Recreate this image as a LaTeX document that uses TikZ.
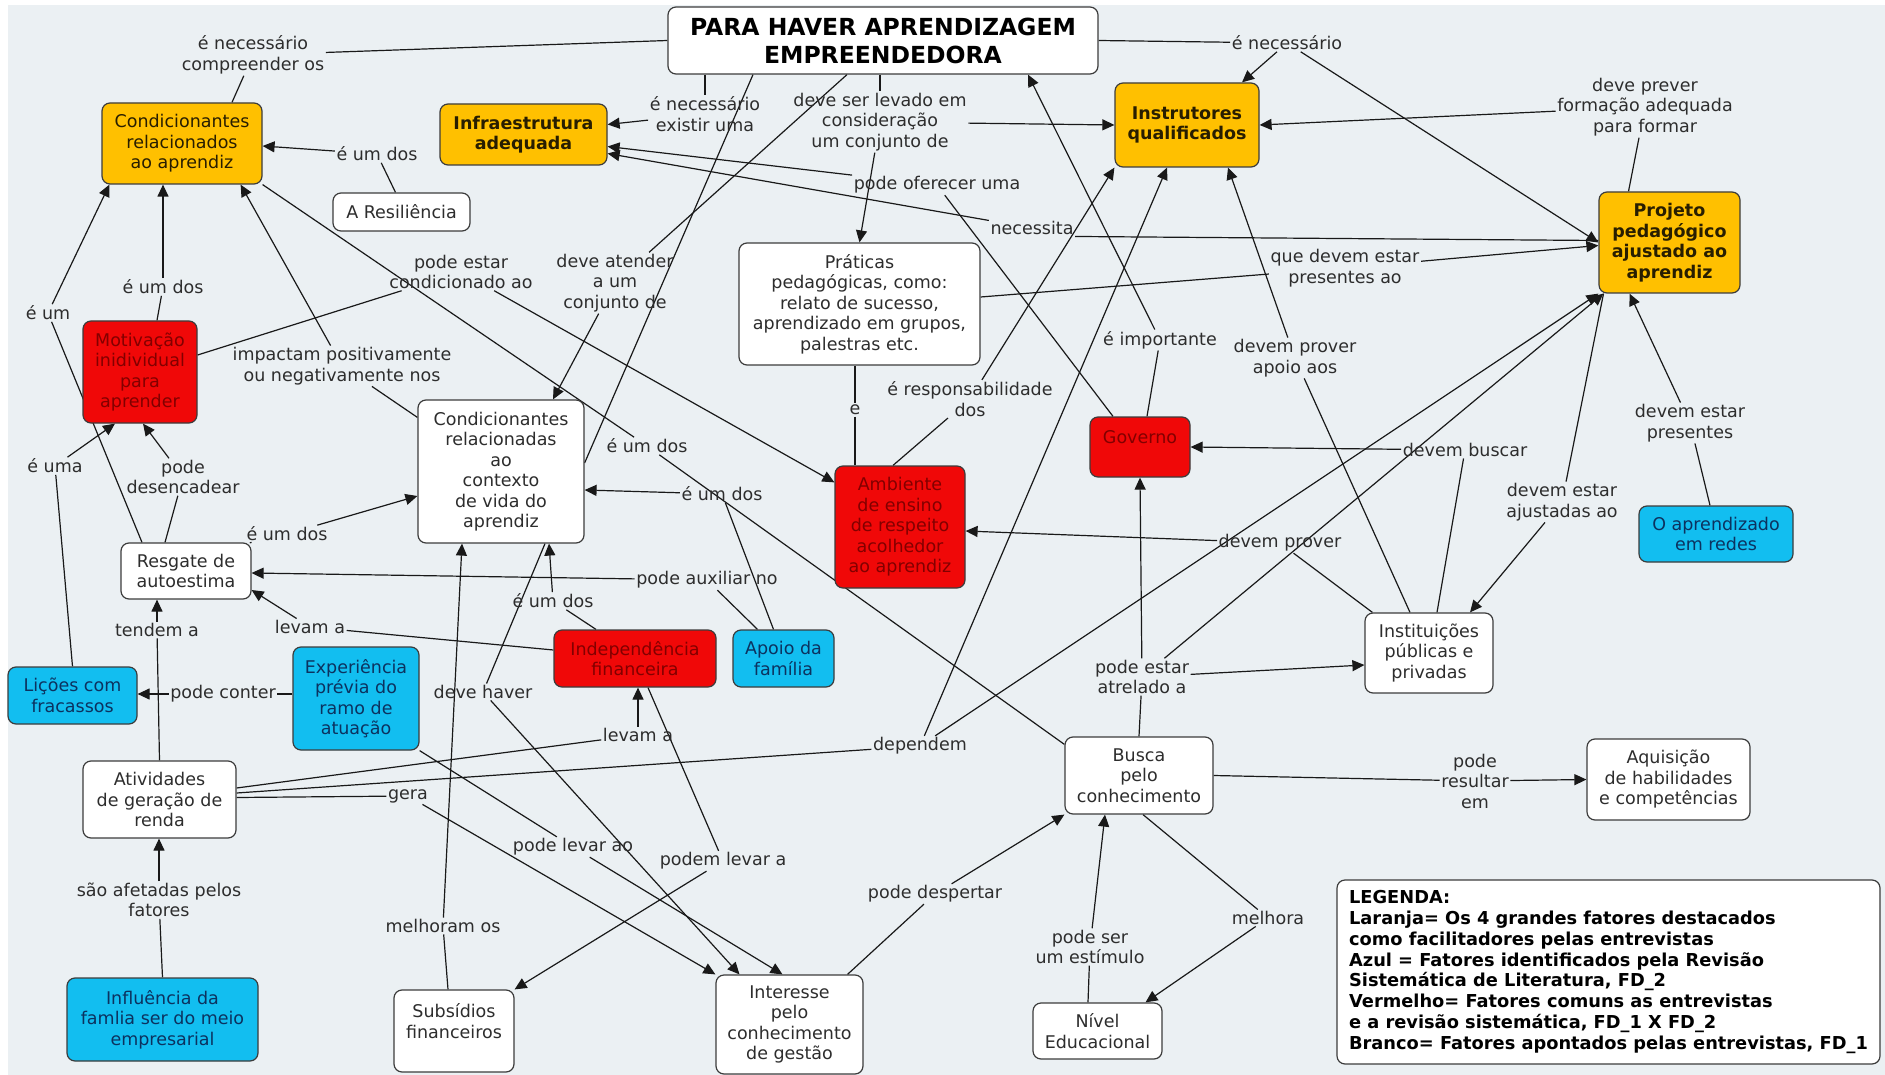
\documentclass[tikz,border=0pt]{standalone}
\usepackage{fontspec}
\setmainfont{DejaVu Sans}
\usetikzlibrary{arrows.meta,calc}
\pgfdeclarelayer{bglayer}
\pgfdeclarelayer{linelayer}
\pgfsetlayers{bglayer,linelayer,main}
\definecolor{bgc}{RGB}{235,240,243}
\definecolor{orc}{RGB}{255,192,0}
\definecolor{ort}{RGB}{40,30,0}
\definecolor{redc}{RGB}{240,8,8}
\definecolor{redt}{RGB}{130,0,0}
\definecolor{bluc}{RGB}{18,190,240}
\definecolor{blut}{RGB}{12,50,95}
\definecolor{txt}{RGB}{45,45,45}
\definecolor{bordc}{RGB}{60,60,60}
\definecolor{linec}{RGB}{25,25,25}
\newcommand\cmfs{\fontsize{17.5}{20.5}\selectfont}
\begin{document}
\begin{tikzpicture}[x=1pt,y=-1pt,
  base/.style={rounded corners=8pt, draw=bordc, line width=1.2pt, inner sep=0pt, align=center, font=\cmfs, text=txt},
  wbox/.style={base, fill=white},
  obox/.style={base, fill=orc, text=ort},
  rbox/.style={base, fill=redc, text=redt},
  bbox/.style={base, fill=bluc, text=blut},
  lab/.style={inner sep=1.5pt, align=center, font=\cmfs, text=txt},
  ln/.style={draw=linec, line width=1.2pt},
  ar/.style={ln, -{Triangle[length=12pt,width=11pt]}}]
\begin{pgfonlayer}{bglayer}
\fill[white] (0,0) rectangle (1885,1075);
\fill[bgc] (8,5) rectangle (1885,1075);
\end{pgfonlayer}
\useasboundingbox (0,0) rectangle (1885,1075);

% concepts
\node[wbox, text=black, minimum width=430pt, minimum height=67pt, font=\fontsize{23.5}{28}\selectfont\bfseries] (title) at (883,40.5) {PARA HAVER APRENDIZAGEM\\EMPREENDEDORA};
\node[obox, minimum width=160pt, minimum height=81pt] (ca) at (182,143.5) {Condicionantes\\relacionados\\ao aprendiz};
\node[obox, minimum width=167pt, minimum height=61pt, font=\cmfs\bfseries] (infra) at (523.5,134.5) {Infraestrutura\\adequada};
\node[obox, minimum width=144pt, minimum height=84pt, font=\cmfs\bfseries] (instr) at (1187,125) {Instrutores\\qualificados};
\node[obox, minimum width=141pt, minimum height=101pt, font=\cmfs\bfseries] (proj) at (1669.5,242.5) {Projeto\\pedagógico\\ajustado ao\\aprendiz};
\node[wbox, minimum width=137pt, minimum height=38pt] (resil) at (401.5,212) {A Resiliência};
\node[rbox, minimum width=114pt, minimum height=102pt] (motiv) at (140,372) {Motivação\\inidividual\\para\\aprender};
\node[wbox, minimum width=166pt, minimum height=143pt] (cc) at (501,471.5) {Condicionantes\\relacionadas\\ao\\contexto\\de vida do\\aprendiz};
\node[wbox, minimum width=241pt, minimum height=122pt] (prat) at (859.5,304) {Práticas\\pedagógicas, como:\\relato de sucesso,\\aprendizado em grupos,\\palestras etc.};
\node[rbox, minimum width=130pt, minimum height=122pt] (amb) at (900,527) {Ambiente\\de ensino\\de respeito\\acolhedor\\ao aprendiz};
\node[rbox, minimum width=100pt, minimum height=60pt] (gov) at (1140,447) {Governo\\\mbox{}};
\node[wbox, minimum width=130pt, minimum height=56pt] (resg) at (186,571) {Resgate de\\autoestima};
\node[bbox, minimum width=129pt, minimum height=57pt] (lic) at (72.5,695.5) {Lições com\\fracassos};
\node[bbox, minimum width=126pt, minimum height=103pt] (exp) at (356,698.5) {Experiência\\prévia do\\ramo de\\atuação};
\node[rbox, minimum width=162pt, minimum height=57pt] (indep) at (635,658.5) {Independência\\financeira};
\node[bbox, minimum width=101pt, minimum height=57pt] (apoio) at (783.5,658.5) {Apoio da\\família};
\node[wbox, minimum width=153pt, minimum height=77pt] (ativ) at (159.5,799.5) {Atividades\\de geração de\\renda};
\node[bbox, minimum width=191pt, minimum height=83pt] (infl) at (162.5,1019.5) {Influência da\\famlia ser do meio\\empresarial};
\node[wbox, minimum width=120pt, minimum height=82pt] (subs) at (454,1031) {Subsídios\\financeiros\\\mbox{}};
\node[wbox, minimum width=147pt, minimum height=99pt] (inter) at (789.5,1024.5) {Interesse\\pelo\\conhecimento\\de gestão};
\node[wbox, minimum width=148pt, minimum height=77pt] (busca) at (1139,775.5) {Busca\\pelo\\conhecimento};
\node[wbox, minimum width=129pt, minimum height=56pt] (nivel) at (1097.5,1031) {Nível\\Educacional};
\node[wbox, minimum width=128pt, minimum height=80pt] (inst) at (1429,653) {Instituições\\públicas e\\privadas};
\node[bbox, minimum width=154pt, minimum height=56pt] (redes) at (1716,534) {O aprendizado\\em redes};
\node[wbox, minimum width=163pt, minimum height=81pt] (aquis) at (1668.5,779.5) {Aquisição\\de habilidades\\e competências};
\node[wbox, text=black, align=left, minimum width=543pt, minimum height=184pt, font=\fontsize{17.8}{20.9}\selectfont\bfseries] (leg) at (1608.5,972) {LEGENDA:\\Laranja= Os 4 grandes fatores destacados\\como facilitadores pelas entrevistas\\Azul = Fatores identificados pela Revisão\\Sistemática de Literatura, FD\_2\\Vermelho= Fatores comuns as entrevistas\\e a revisão sistemática, FD\_1 X FD\_2\\Branco= Fatores apontados pelas entrevistas, FD\_1};

% linking phrases
\node[lab] (lnc) at (253,55) {é necessário\\compreender os};
\node[lab] (lne) at (705,114) {é necessário\\existir uma};
\node[lab] (llv) at (880,122) {deve ser levado em\\consideração\\um conjunto de};
\node[lab] (lnr) at (1287,43) {é necessário};
\node[lab] (lpv) at (1645,107) {deve prever\\formação adequada\\para formar};
\node[lab] (lu1) at (377,154) {é um dos};
\node[lab] (leum) at (48,313) {é um};
\node[lab] (lu2) at (163,287) {é um dos};
\node[lab] (limp) at (342,366) {impactam positivamente\\ou negativamente nos};
\node[lab] (lcond) at (461,272) {pode estar\\condicionado ao};
\node[lab] (latd) at (615,283) {deve atender\\a um\\conjunto de};
\node[lab] (lofe) at (937,185) {pode oferecer uma};
\node[lab] (lnes) at (1032,228) {necessita};
\node[lab] (lpre) at (1345,268) {que devem estar\\presentes ao};
\node[lab] (le) at (855,410) {e};
\node[lab] (lres) at (970,399) {é responsabilidade\\dos};
\node[lab] (limpo) at (1160,340) {é importante};
\node[lab] (lapo) at (1295,358) {devem prover\\apoio aos};
\node[lab] (lu3) at (647,446) {é um dos};
\node[lab] (lu4) at (722,494) {é um dos};
\node[lab] (lu5) at (287,534) {é um dos};
\node[lab] (ldes) at (183,477) {pode\\desencadear};
\node[lab] (leuma) at (55,466) {é uma};
\node[lab] (laux) at (707,580) {pode auxiliar no};
\node[lab] (lu6) at (553,601) {é um dos};
\node[lab] (lten) at (157,630) {tendem a};
\node[lab] (llv1) at (310,627) {levam a};
\node[lab] (lcon) at (223,694) {pode conter};
\node[lab] (lhav) at (483,692) {deve haver};
\node[lab] (lbus) at (1465,450) {devem buscar};
\node[lab] (lajs) at (1562,502) {devem estar\\ajustadas ao};
\node[lab] (lpr2) at (1690,423) {devem estar\\presentes};
\node[lab] (lprov) at (1280,543) {devem prover};
\node[lab] (latr) at (1142,677) {pode estar\\atrelado a};
\node[lab] (llv2) at (638,735) {levam a};
\node[lab] (ldep) at (920,746) {dependem};
\node[lab] (lger) at (408,796) {gera};
\node[lab] (llao) at (573,847) {pode levar ao};
\node[lab] (lpla) at (723,861) {podem levar a};
\node[lab] (lmel) at (443,926) {melhoram os};
\node[lab] (ldesp) at (935,894) {pode despertar};
\node[lab] (lrsl) at (1475,781) {pode\\resultar\\em};
\node[lab] (lest) at (1090,947) {pode ser\\um estímulo};
\node[lab] (lmlh) at (1268,918) {melhora};
\node[lab] (lafe) at (159,900) {são afetadas pelos\\fatores};

\begin{pgfonlayer}{linelayer}
\draw[ln] (title.west) -- (lnc);
\draw[ln] (lnc) -- ([xshift=50pt]ca.north);
\draw[ln] (title.south -| lne.north) -- (lne);
\draw[ar] (lne) -- ([yshift=10pt]infra.east);
\draw[ln] (title.south -| llv.north) -- (llv);
\draw[ar] (llv) -- (prat.north);
\draw[ar] (llv) -- (instr.west);
\draw[ln] (title.east) -- (lnr);
\draw[ar] (lnr) -- ([xshift=55pt]instr.north);
\draw[ar] (lnr) -- (proj.west);
\draw[ln] ([xshift=-41pt]proj.north) -- (lpv);
\draw[ar] (lpv) -- (instr.east);
\draw[ln] ([xshift=-6pt]resil.north) -- (lu1);
\draw[ar] (lu1) -- ([yshift=-2.5pt]ca.east);
\draw[ln] ([xshift=-44pt]resg.north) -- (leum);
\draw[ar] (leum) -- ([xshift=8pt]ca.south west);
\draw[ln] ([xshift=17pt]motiv.north) -- (lu2);
\draw[ar] (lu2) -- (lu2 |- ca.south);
\draw[ln] ([yshift=-18pt]cc.north west) -- (limp);
\draw[ar] (limp) -- ([xshift=-22pt]ca.south east);
\draw[ln] ([yshift=17pt]motiv.east) -- (lcond);
\draw[ar] (lcond) -- ([yshift=-17pt]amb.north west);
\draw[ln] ([xshift=-36pt]title.south) -- (latd);
\draw[ar] (latd) -- ([xshift=52pt]cc.north);
\draw[ln] ([xshift=-130pt]title.south) -- ([yshift=8.5pt]cc.east);
\draw[ln] ([xshift=-27pt]gov.north) -- (lofe);
\draw[ar] (lofe) -- ([yshift=-12pt]infra.east);
\draw[ln] ([yshift=2pt]proj.west) -- (lnes.south east);
\draw[ar] (lnes) -- ([yshift=-19pt]infra.east);
\draw[ln] ([yshift=7pt]prat.east) -- (lpre);
\draw[ar] (lpre) -- ([yshift=-3pt]proj.west);
\draw[ln] (prat.south -| le) -- (le);
\draw[ln] (le) -- (amb.north -| le);
\draw[ln] ([xshift=-7pt]amb.north) -- (lres);
\draw[ar] (lres) -- (instr.south west);
\draw[ln] ([xshift=7pt]gov.north) -- (limpo);
\draw[ar] (limpo) -- ([xshift=145pt]title.south);
\draw[ln] ([xshift=-19pt]inst.north) -- (lapo);
\draw[ar] (lapo) -- ([xshift=41pt]instr.south);
\draw[ln] ([yshift=-8pt]busca.north west) -- (lu3);
\draw[ln] (lu3) -- (ca.south east);
\draw[ln] ([xshift=-10pt]apoio.north) -- (lu4);
\draw[ar] (lu4) -- ([yshift=-18.5pt]cc.east);
\draw[ln] (resg.north east) -- (lu5);
\draw[ar] (lu5) -- ([yshift=-24.5pt]cc.west);
\draw[ln] ([xshift=-21pt]resg.north) -- (ldes);
\draw[ar] (ldes) -- ([xshift=3pt]motiv.south);
\draw[ln] (lic.north) -- (leuma);
\draw[ar] (leuma) -- ([xshift=-25pt]motiv.south);
\draw[ln] ([xshift=-26pt]apoio.north) -- (laux);
\draw[ar] (laux) -- ([yshift=-2pt]resg.east);
\draw[ln] ([xshift=-39pt]indep.north) -- (lu6);
\draw[ar] (lu6) -- ([xshift=48pt]cc.south);
\draw[ln] (ativ.north) -- (lten);
\draw[ar] (lten) -- (lten |- resg.south);
\draw[ln] ([yshift=8.5pt]indep.west) -- (llv1);
\draw[ar] (llv1) -- ([yshift=-19pt]resg.east);
\draw[ln] ([yshift=4.5pt]exp.west) -- (lcon);
\draw[ar] (lcon) -- ([yshift=1.5pt]lic.east);
\draw[ln] ([xshift=44pt]cc.south) -- (lhav);
\draw[ar] (lhav) -- ([xshift=-50pt]inter.north);
\draw[ln] ([xshift=8pt]inst.north) -- (lbus);
\draw[ar] (lbus) -- (gov.east);
\draw[ln] ([xshift=-66pt]proj.south) -- (lajs);
\draw[ar] (lajs) -- ([xshift=41pt]inst.north);
\draw[ln] ([xshift=-6pt]redes.north) -- (lpr2);
\draw[ar] (lpr2) -- ([xshift=-40pt]proj.south);
\draw[ln] ([xshift=8pt]inst.north west) -- (lprov);
\draw[ar] (lprov) -- ([yshift=-4pt]amb.east);
\draw[ln] (busca.north) -- (latr);
\draw[ar] (latr) -- (gov.south);
\draw[ar] (latr) -- ([yshift=-12pt]inst.west);
\draw[ar] (latr) -- ([xshift=5pt]proj.south west);
\draw[ln] ([yshift=11.5pt]ativ.east) -- (llv2);
\draw[ar] (llv2) -- (llv2 |- indep.south);
\draw[ln] ([yshift=6.5pt]ativ.east) -- (ldep);
\draw[ar] (ldep) -- ([xshift=-20pt]instr.south);
\draw[ar] (ldep) -- (proj.south west);
\draw[ln] ([yshift=2pt]ativ.east) -- (lger);
\draw[ar] (lger) -- (inter.north west);
\draw[ln] (exp.south east) -- (llao);
\draw[ar] (llao) -- ([xshift=-7pt]inter.north);
\draw[ln] ([xshift=13pt]indep.south) -- (lpla);
\draw[ar] (lpla) -- (subs.north east);
\draw[ln] ([xshift=-6pt]subs.north) -- (lmel);
\draw[ar] (lmel) -- ([xshift=-39pt]cc.south);
\draw[ln] ([xshift=58pt]inter.north) -- (ldesp);
\draw[ar] (ldesp) -- (busca.south west);
\draw[ln] (busca.east) -- (lrsl);
\draw[ar] (lrsl) -- (aquis.west);
\draw[ln] ([xshift=-9.5pt]nivel.north) -- (lest);
\draw[ar] (lest) -- ([xshift=-34pt]busca.south);
\draw[ln] ([xshift=4pt]busca.south) -- (lmlh);
\draw[ar] (lmlh) -- ([xshift=48pt]nivel.north);
\draw[ln] (infl.north) -- (lafe);
\draw[ar] (lafe) -- (lafe |- ativ.south);
\end{pgfonlayer}
\end{tikzpicture}
\end{document}
